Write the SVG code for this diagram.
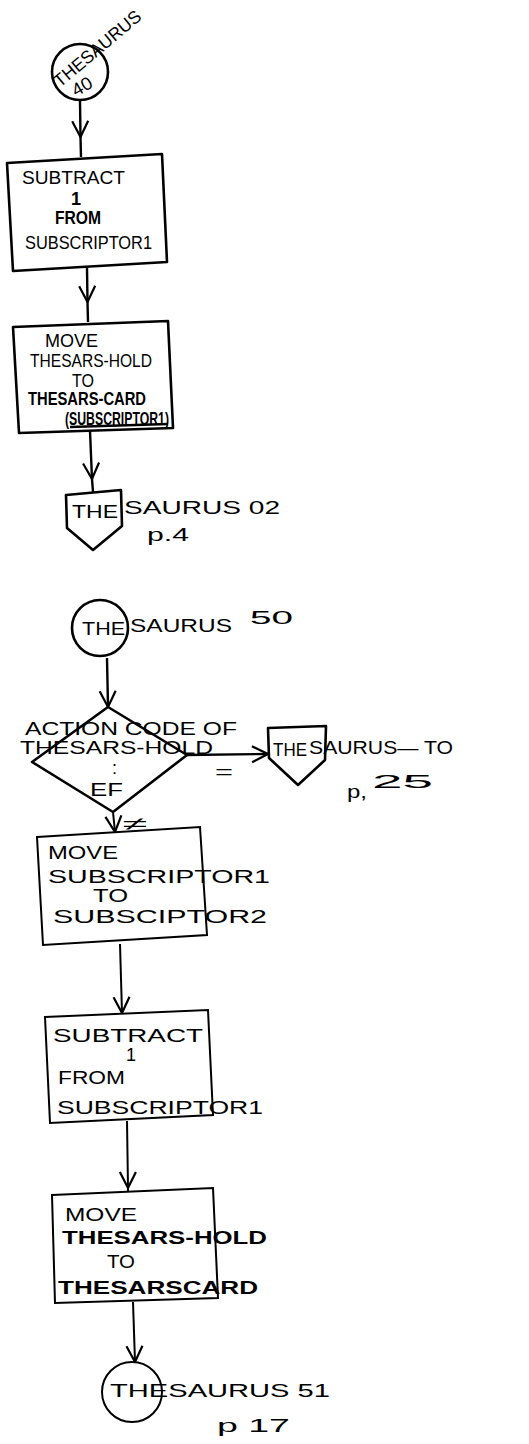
<svg xmlns="http://www.w3.org/2000/svg" width="529" height="1444" viewBox="0 0 529 1444">
<style>
.shape{fill:none;stroke:#000;stroke-width:2.6;stroke-linejoin:round}
.thin{fill:none;stroke:#000;stroke-width:2}
.line{fill:none;stroke:#000;stroke-width:2.4}
.t{font-family:"Liberation Sans",Arial,sans-serif;font-size:18px;fill:#000}
.b{font-weight:bold}
</style>
<defs>
<marker id="v" viewBox="0 0 18 20" markerWidth="18" markerHeight="20" refX="17" refY="10" orient="auto" markerUnits="userSpaceOnUse">
<path d="M1,2 L17,10 L1,18" fill="none" stroke="#000" stroke-width="2.2"/>
</marker>
</defs>
<rect width="529" height="1444" fill="#fff"/>

<g id="connectors">
<path class="line" d="M80,101 L80.5,137 L81,157" marker-mid="url(#v)"/>
<path class="line" d="M87,268 L87.5,302 L88,322" marker-mid="url(#v)"/>
<path class="line" d="M90,431 L92,479 L93,492" marker-mid="url(#v)"/>
<path class="line" d="M107,658 L108,707" marker-end="url(#v)"/>
<path class="line" d="M187,755 L268,754" marker-end="url(#v)"/>
<path class="thin" d="M113,812 L115,832" marker-end="url(#v)"/>
<path class="thin" d="M120,944 L122,1013" marker-end="url(#v)"/>
<path class="thin" d="M127,1121 L128,1188 L128,1192" marker-mid="url(#v)"/>
<path class="thin" d="M133,1302 L135,1362" marker-end="url(#v)"/>
<text class="t" x="215" y="778" font-size="20" textLength="18" lengthAdjust="spacingAndGlyphs">=</text>
<text class="t" x="123" y="830" font-size="20" textLength="25" lengthAdjust="spacingAndGlyphs">≠</text>
</g>

<g id="start40">
<circle class="shape" cx="80" cy="72" r="28"/>
<text class="t" x="60" y="88" font-size="17" transform="rotate(-40 60 88)" textLength="108" lengthAdjust="spacingAndGlyphs">THESAURUS</text>
<text class="t" x="76" y="97" font-size="17" transform="rotate(-30 76 97)" textLength="21" lengthAdjust="spacingAndGlyphs">40</text>
</g>

<g id="subtract1">
<polygon class="shape" points="7,163 162,154 167,262 13,271"/>
<text class="t" x="22" y="184" textLength="103" lengthAdjust="spacingAndGlyphs">SUBTRACT</text>
<text class="t b" x="71" y="205" font-size="14">1</text>
<text class="t b" x="55" y="224" font-size="17" textLength="46" lengthAdjust="spacingAndGlyphs">FROM</text>
<text class="t" x="25" y="249" textLength="127" lengthAdjust="spacingAndGlyphs">SUBSCRIPTOR1</text>
</g>

<g id="move1">
<polygon class="shape" points="13,327 168,321 173,428 19,433"/>
<text class="t" x="45" y="347" textLength="53" lengthAdjust="spacingAndGlyphs">MOVE</text>
<text class="t" x="30" y="367" font-size="16" textLength="122" lengthAdjust="spacingAndGlyphs">THESARS-HOLD</text>
<text class="t" x="72" y="387" font-size="13" textLength="22" lengthAdjust="spacingAndGlyphs">TO</text>
<text class="t b" x="28" y="405" font-size="16" textLength="118" lengthAdjust="spacingAndGlyphs">THESARS-CARD</text>
<text class="t b" x="65" y="425" font-size="14" textLength="104" lengthAdjust="spacingAndGlyphs">(SUBSCRIPTOR1)</text>
<line class="shape" x1="70" y1="427" x2="168" y2="424" stroke-width="3"/>
</g>

<g id="page02">
<polygon class="shape" points="66,495 121,490 122,526 93,550 67,528"/>
<text class="t" x="72" y="518" font-size="21" textLength="46" lengthAdjust="spacingAndGlyphs">THE</text>
<text class="t" x="124" y="514" font-size="20" textLength="156" lengthAdjust="spacingAndGlyphs">SAURUS 02</text>
<text class="t" x="147" y="541" font-size="19" textLength="42" lengthAdjust="spacingAndGlyphs">p.4</text>
</g>

<g id="start50">
<circle class="shape" cx="100" cy="628" r="28" stroke-width="2.2"/>
<text class="t" x="82" y="635" font-size="19" textLength="43" lengthAdjust="spacingAndGlyphs">THE</text>
<text class="t" x="130" y="632" font-size="19" textLength="102" lengthAdjust="spacingAndGlyphs">SAURUS</text>
<text class="t" x="250" y="624" font-size="19" textLength="43" lengthAdjust="spacingAndGlyphs">50</text>
</g>

<g id="decision">
<polygon class="shape" points="108,707 187,755 113,812 32,762" stroke-width="2.2"/>
<text class="t" x="25" y="735" font-size="15" textLength="212" lengthAdjust="spacingAndGlyphs">ACTION CODE OF</text>
<text class="t" x="20" y="754" font-size="15" textLength="193" lengthAdjust="spacingAndGlyphs">THESARS-HOLD</text>
<text class="t" x="112" y="774" font-size="13">:</text>
<text class="t" x="90" y="796" font-size="17" textLength="33" lengthAdjust="spacingAndGlyphs">EF</text>
</g>

<g id="page25">
<polygon class="shape" points="268,728 326,726 325,760 298,785 269,758" stroke-width="2.2"/>
<text class="t" x="273" y="756" font-size="18" textLength="34" lengthAdjust="spacingAndGlyphs">THE</text>
<text class="t" x="309" y="754" font-size="18" textLength="144" lengthAdjust="spacingAndGlyphs">SAURUS— TO</text>
<text class="t" x="347" y="798" font-size="24" textLength="20" lengthAdjust="spacingAndGlyphs">p,</text>
<text class="t" x="372" y="788" font-size="18" textLength="61" lengthAdjust="spacingAndGlyphs">25</text>
</g>

<g id="move2">
<polygon class="thin" points="37,837 200,827 207,935 43,945"/>
<text class="t" x="48" y="859" font-size="16" textLength="70" lengthAdjust="spacingAndGlyphs">MOVE</text>
<text class="t" x="48" y="883" font-size="17" textLength="222" lengthAdjust="spacingAndGlyphs">SUBSCRIPTOR1</text>
<text class="t" x="93" y="902" font-size="14" textLength="35" lengthAdjust="spacingAndGlyphs">TO</text>
<text class="t" x="53" y="923" font-size="17" textLength="214" lengthAdjust="spacingAndGlyphs">SUBSCIPTOR2</text>
</g>

<g id="subtract2">
<polygon class="thin" points="45,1017 208,1010 213,1115 50,1123"/>
<text class="t" x="53" y="1042" font-size="17" textLength="150" lengthAdjust="spacingAndGlyphs">SUBTRACT</text>
<text class="t" x="126" y="1061" font-size="11">1</text>
<text class="t" x="58" y="1084" font-size="19" textLength="67" lengthAdjust="spacingAndGlyphs">FROM</text>
<text class="t" x="57" y="1114" font-size="19" textLength="206" lengthAdjust="spacingAndGlyphs">SUBSCRIPTOR1</text>
</g>

<g id="move3">
<polygon class="thin" points="52,1195 213,1188 218,1298 55,1303"/>
<text class="t" x="65" y="1221" font-size="17" textLength="72" lengthAdjust="spacingAndGlyphs">MOVE</text>
<text class="t b" x="62" y="1244" font-size="18" textLength="205" lengthAdjust="spacingAndGlyphs">THESARS-HOLD</text>
<text class="t" x="107" y="1268" font-size="15" textLength="28" lengthAdjust="spacingAndGlyphs">TO</text>
<text class="t b" x="58" y="1294" font-size="18" textLength="200" lengthAdjust="spacingAndGlyphs">THESARSCARD</text>
</g>

<g id="end51">
<circle class="thin" cx="132" cy="1392" r="30"/>
<text class="t" x="110" y="1397" font-size="17" textLength="220" lengthAdjust="spacingAndGlyphs">THESAURUS 51</text>
<text class="t" x="217" y="1432" font-size="19" textLength="73" lengthAdjust="spacingAndGlyphs">p 17</text>
</g>
</svg>
